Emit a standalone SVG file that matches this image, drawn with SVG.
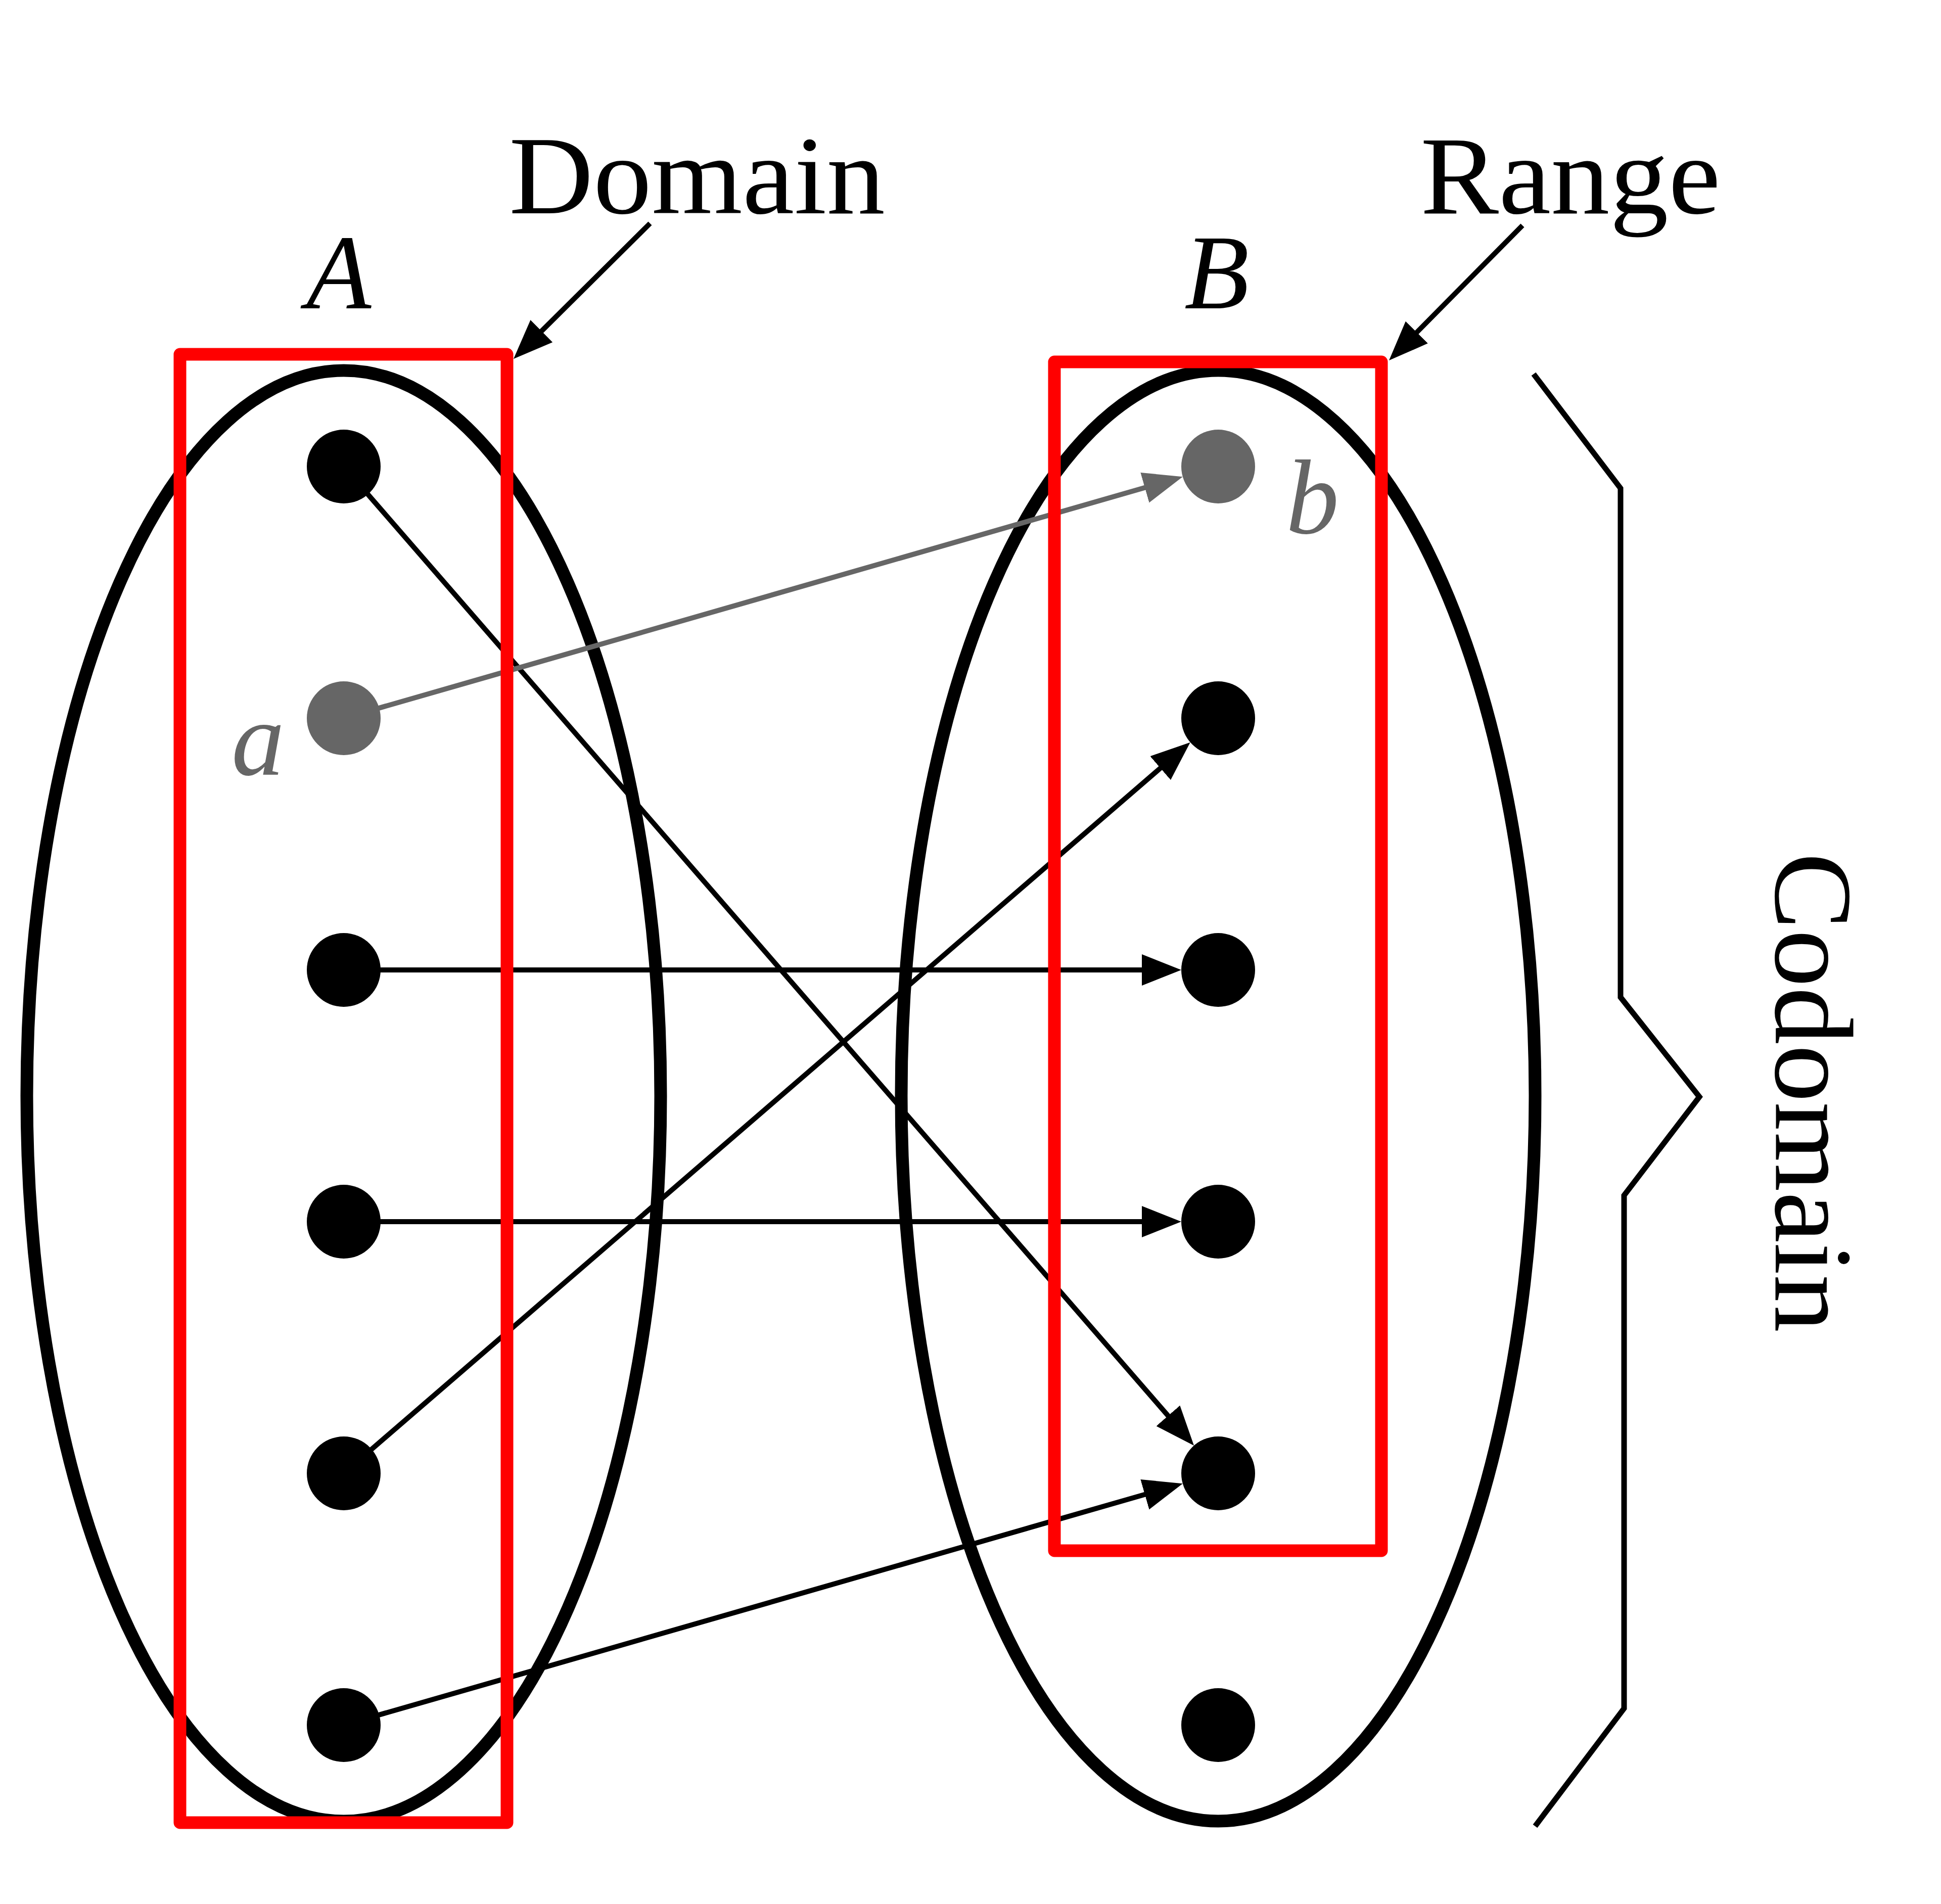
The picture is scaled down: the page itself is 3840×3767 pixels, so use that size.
<svg xmlns="http://www.w3.org/2000/svg" width="3840" height="3767" viewBox="0 0 3840 3767">
<style>
.set{fill:none;stroke:#000;stroke-width:25}
.box{fill:none;stroke:#ff0000;stroke-width:25;stroke-linejoin:round}
.dot{fill:#000}
.gdot{fill:#666666}
.edge{fill:none;stroke:#000;stroke-width:10}
.gedge{fill:none;stroke:#666666;stroke-width:10}
.lbl{font-family:"Liberation Serif","Times New Roman",serif;font-size:220px;fill:#000}
.math{font-family:"Liberation Serif","Times New Roman",serif;font-style:italic;font-size:210px;fill:#000}
.gmath{font-family:"Liberation Serif","Times New Roman",serif;font-style:italic;font-size:210px;fill:#666666}
</style>
<defs>
<marker id="ah" markerUnits="userSpaceOnUse" markerWidth="78" markerHeight="62" refX="48" refY="31" orient="auto" viewBox="0 0 78 62">
<path d="M0,0 L78,31 L0,62 Z" fill="#000"/>
</marker>
<marker id="gah" markerUnits="userSpaceOnUse" markerWidth="78" markerHeight="62" refX="48" refY="31" orient="auto" viewBox="0 0 78 62">
<path d="M0,0 L78,31 L0,62 Z" fill="#666666"/>
</marker>
</defs>
<rect width="3840" height="3767" fill="#fff"/>
<g id="setA"><ellipse class="set" cx="680" cy="2168" rx="627" ry="1435"/></g>
<g id="setB"><ellipse class="set" cx="2410" cy="2168" rx="627" ry="1435"/></g>
<g id="connectors">
<line class="edge" x1="680" y1="923" x2="2342.4" y2="2837.3" marker-end="url(#ah)"/>
<line class="gedge" x1="680" y1="1421" x2="2311" y2="951.5" marker-end="url(#gah)"/>
<line class="edge" x1="680" y1="1919" x2="2307" y2="1919" marker-end="url(#ah)"/>
<line class="edge" x1="680" y1="2417" x2="2307" y2="2417" marker-end="url(#ah)"/>
<line class="edge" x1="680" y1="2915" x2="2332" y2="1488.3" marker-end="url(#ah)"/>
<line class="edge" x1="680" y1="3413" x2="2311" y2="2943.5" marker-end="url(#ah)"/>
<line class="edge" x1="1286" y1="442" x2="1037.3" y2="688.9" marker-end="url(#ah)"/>
<line class="edge" x1="3012" y1="446" x2="2769.1" y2="691.7" marker-end="url(#ah)"/>
</g>
<g id="a1"><circle class="dot" cx="680" cy="923" r="73"/></g>
<g id="a2"><circle class="gdot" cx="680" cy="1421" r="73"/></g>
<g id="a3"><circle class="dot" cx="680" cy="1919" r="73"/></g>
<g id="a4"><circle class="dot" cx="680" cy="2417" r="73"/></g>
<g id="a5"><circle class="dot" cx="680" cy="2915" r="73"/></g>
<g id="a6"><circle class="dot" cx="680" cy="3413" r="73"/></g>
<g id="b1"><circle class="gdot" cx="2410" cy="923" r="73"/></g>
<g id="b2"><circle class="dot" cx="2410" cy="1421" r="73"/></g>
<g id="b3"><circle class="dot" cx="2410" cy="1919" r="73"/></g>
<g id="b4"><circle class="dot" cx="2410" cy="2417" r="73"/></g>
<g id="b5"><circle class="dot" cx="2410" cy="2915" r="73"/></g>
<g id="b6"><circle class="dot" cx="2410" cy="3413" r="73"/></g>
<g id="domain"><rect class="box" x="356" y="701" width="647" height="2905"/></g>
<g id="range"><rect class="box" x="2086" y="716" width="647" height="2352"/></g>
<g id="codomainBrace"><polyline fill="none" stroke="#000" stroke-width="11" points="3034,740 3206,966 3206,1973 3362,2170 3213,2365 3213,3380 3037,3613"/></g>
<g id="labels">
<text class="lbl" x="1007" y="422" textLength="744" lengthAdjust="spacingAndGlyphs">Domain</text>
<text class="lbl" x="2810" y="422" textLength="594" lengthAdjust="spacingAndGlyphs">Range</text>
<text class="math" x="606" y="610">A</text>
<text class="math" x="2343" y="610">B</text>
<text class="gmath" x="458" y="1533">a</text>
<text class="gmath" x="2544" y="1055">b</text>
<text class="lbl" transform="translate(3513,1687) rotate(90)" textLength="949" lengthAdjust="spacingAndGlyphs">Codomain</text>
</g>
</svg>
